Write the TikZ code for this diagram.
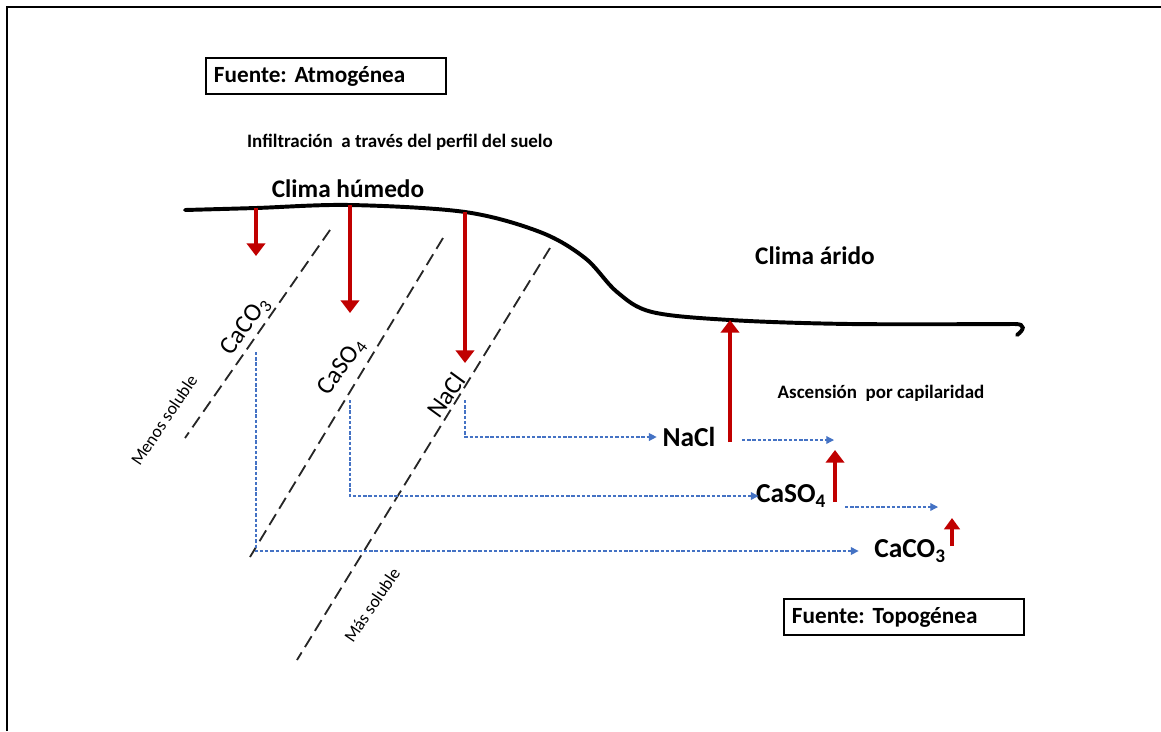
\documentclass[tikz,border=0pt]{standalone}
\usepackage{fontspec}
\setmainfont{Carlito}
\frenchspacing
\usetikzlibrary{arrows.meta,positioning}
\definecolor{saltred}{RGB}{192,0,0}
\definecolor{flowblue}{RGB}{68,114,196}

\begin{document}
\begin{tikzpicture}[x=0.025cm,y=-0.025cm,
    big/.style={font=\bfseries\fontsize{18}{21}\selectfont, inner sep=1pt},
    small/.style={font=\bfseries\fontsize{13.5}{16}\selectfont, inner sep=1pt},
    side/.style={font=\fontsize{12.5}{15}\selectfont, inner sep=1pt, rotate=56},
    salt/.style={font=\fontsize{18}{21}\selectfont, inner sep=1pt, rotate=54},
    saltR/.style={font=\bfseries\fontsize{19.5}{23}\selectfont, inner sep=1pt},
    srcbox/.style={draw, line width=1.1pt, text width=5.6cm, align=left,
      inner xsep=0.2cm, minimum height=0.9cm,
      font=\bfseries\fontsize{16.5}{19}\selectfont},
    ground/.style={line width=2.8pt, line cap=round},
    zone/.style={black!85, line width=1.3pt, dash pattern=on 9pt off 4.5pt},
    redarrow/.style={saltred, line width=2.8pt, -{Triangle[width=13pt,length=9pt]}},
    flow/.style={flowblue, line width=0.9pt, dash pattern=on 2.4pt off 1.3pt,
      -{Triangle[width=5.5pt,length=5.5pt]}}]
  \useasboundingbox (0,0) rectangle (1161,731);
  \draw[line width=1.8pt] (7,731) -- (7,7) -- (1161,7);

  % Titles
  \node[srcbox] (atmo) at (326,76) {Fuente: Atmogénea};
  \node[srcbox] (topo) at (904,617) {Fuente: Topogénea};
  \node[small] (infil) at (400,142) {Infiltración~ a través del perfil del suelo};
  \node[big] (humedo) at (348,189) {Clima húmedo};
  \node[big] (arido) at (815,256) {Clima árido};
  \node[small] (ascen) at (881,393) {Ascensión~ por capilaridad};

  % Ground surface
  \coordinate (gA) at (256,208);
  \coordinate (gB) at (350,205);
  \coordinate (gC) at (465,212);
  \coordinate (gD) at (730,320);
  \draw[ground] plot[smooth, tension=0.55] coordinates {(185,210) (gA) (gB) (gC)
      (540,232) (585,258) (617,292) (652,312) (gD) (850,324) (1015,324)}
    .. controls (1026,324) and (1024,330) .. (1017,335);

  % Solubility fronts
  \draw[zone] (330,230) -- (185,438);
  \draw[zone] (443,238) -- (250,557);
  \draw[zone] (550,248) -- (297,660);
  \node[side] (menos) at (164,420) {Menos soluble};
  \node[side] (mas) at (372,605) {Más soluble};

  % Salts along the fronts
  \node[salt] (cacoL) at (246,326) {CaCO\textsubscript{3}};
  \node[salt] (casoL) at (342,367) {CaSO\textsubscript{4}};
  \node[salt] (naclL) at (446,395) {NaCl};

  % Downward infiltration
  \coordinate (dA) at (256,256);
  \coordinate (dB) at (350,313);
  \coordinate (dC) at (465,363);
  \draw[redarrow] (gA) -- (dA);
  \draw[redarrow] (gB) -- (dB);
  \draw[redarrow] (gC) -- (dC);

  % Salts in the arid zone
  \node[saltR] (naclR) at (689,437) {NaCl};
  \node[saltR] (casoR) at (791,496) {CaSO\textsubscript{4}};
  \node[saltR] (cacoR) at (910,551) {CaCO\textsubscript{3}};

  % Lateral transport
  \coordinate (cacoD) at (256,352);
  \coordinate (casoD) at (350,400);
  \coordinate (naclD) at (465,400);
  \draw[flow, shorten >=3pt] (naclD) |- (naclR.west);
  \draw[flow, shorten >=-3pt] (casoD) |- (casoR.west);
  \draw[flow, shorten >=10pt] (cacoD) |- (cacoR.west);
  \coordinate (naclA) at (742,440);
  \coordinate (naclB) at (834,440);
  \coordinate (casoA) at (845,507);
  \coordinate (casoB) at (938,507);
  \draw[flow] (naclA) -- (naclB);
  \draw[flow] (casoA) -- (casoB);

  % Capillary rise
  \coordinate (uA) at (730,442);
  \coordinate (uB) at (835,502);
  \coordinate (uBt) at (835,450);
  \coordinate (uC) at (952,546);
  \coordinate (uCt) at (952,518);
  \draw[redarrow] (uA) -- (gD);
  \draw[redarrow] (uB) -- (uBt);
  \draw[redarrow, -{Triangle[width=11pt,length=8pt]}] (uC) -- (uCt);
\end{tikzpicture}
\end{document}
